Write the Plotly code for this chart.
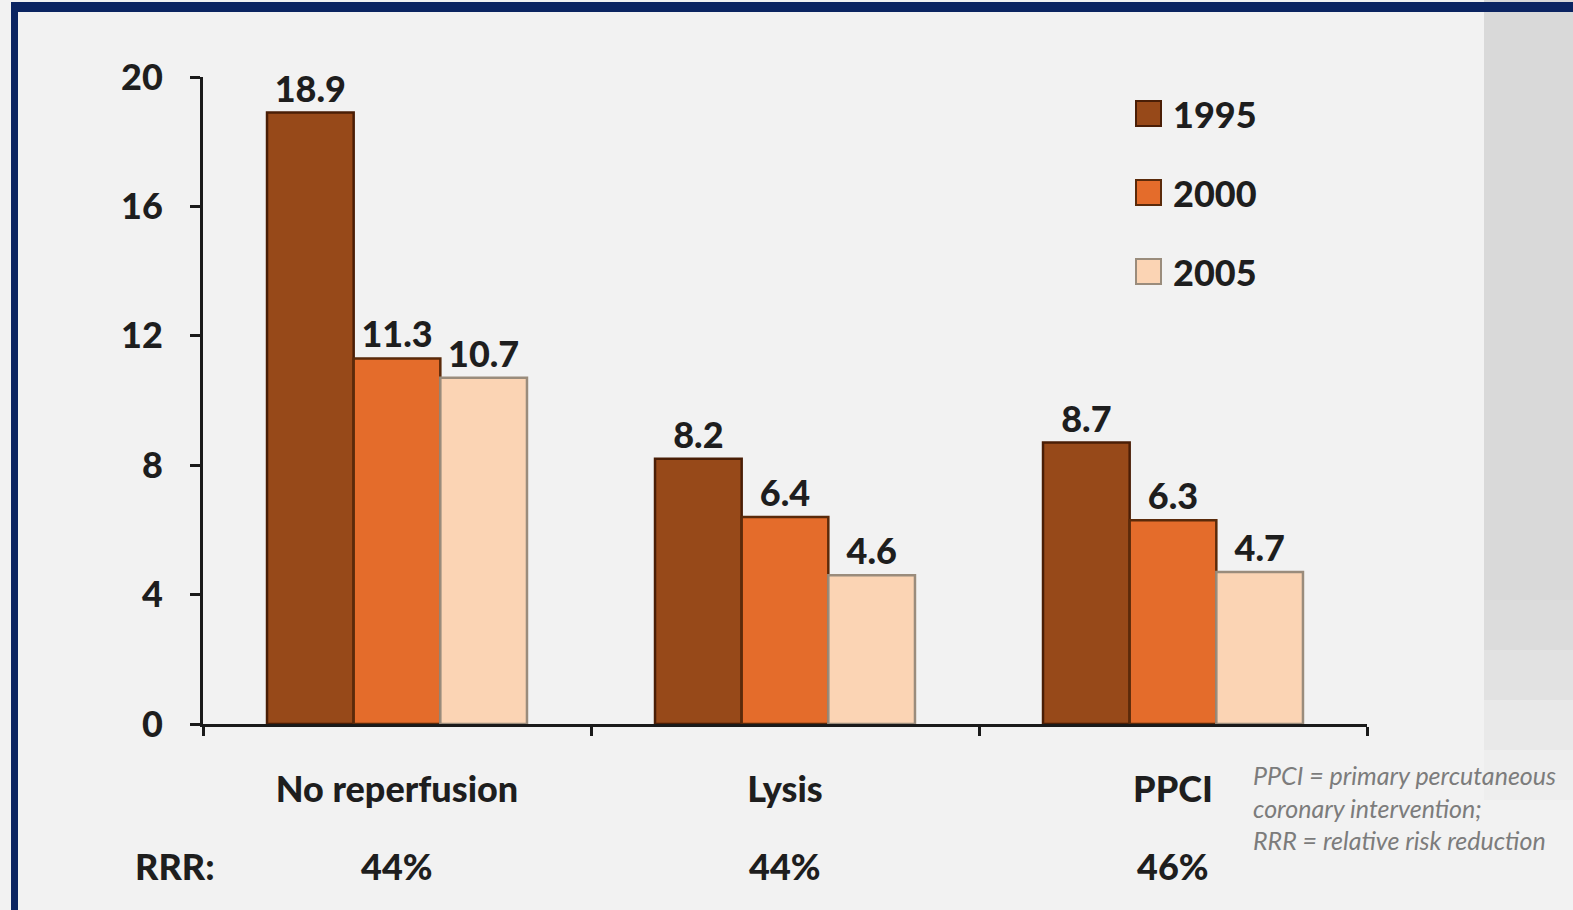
import plotly.graph_objects as go

# Mortality (%) by reperfusion strategy and year
categories = ["No reperfusion", "Lysis", "PPCI"]
years = ["1995", "2000", "2005"]
values_1995 = [18.9, 8.2, 8.7]
values_2000 = [11.3, 6.4, 6.3]
values_2005 = [10.7, 4.6, 4.7]
rrr_labels = ["44%", "44%", "46%"]
y_ticks = [0, 4, 8, 12, 16, 20]

series = [values_1995, values_2000, values_2005]
fill_colors = ["#974919", "#E46C2B", "#FBD4B4"]
line_colors = ["#4A1E06", "#5A2A0A", "#9A8C7C"]

W, H = 1573, 910
PL, PR, PT, PB = 203, 1367, 77, 724  # plot-area edges in pixels
FONT = "Lato"
WEIGHT = 900
TEXT = "#1e1e1e"


def px_x(x):
    """Pixel column -> paper x (paper spans the plot area)."""
    return (x - PL) / (PR - PL)


def px_y(y):
    """Pixel row (from top) -> paper y."""
    return (PB - y) / (PB - PT)


fig = go.Figure()
for name, vals, fc, lc in zip(years, series, fill_colors, line_colors):
    fig.add_trace(go.Bar(
        name=name,
        x=categories,
        y=vals,
        marker=dict(color=fc, line=dict(color=lc, width=2.5)),
        text=[f"{v:.1f}" for v in vals],
        textposition="outside",
        textfont=dict(family=FONT, size=36, color=TEXT, weight=WEIGHT),
        cliponaxis=False,
        showlegend=False,
    ))

shapes = []
# right-hand grey panel, fading out towards the bottom
panel_steps = [(0, 600, "#d9d9d9"), (600, 650, "#dcdcdc"), (650, 700, "#e2e2e2"),
               (700, 750, "#e9e9e9"), (750, 800, "#eeeeee")]
for top, bottom, col in panel_steps:
    shapes.append(dict(type="rect", xref="paper", yref="paper",
                       x0=px_x(1484), x1=px_x(W + 5), y0=px_y(bottom), y1=px_y(top),
                       fillcolor=col, line_width=0, layer="below"))
# navy frame, top and left
shapes.append(dict(type="rect", xref="paper", yref="paper", x0=px_x(11), x1=px_x(W + 5),
                   y0=px_y(12), y1=px_y(2), fillcolor="#0b2461", line_width=0, layer="below"))
shapes.append(dict(type="rect", xref="paper", yref="paper", x0=px_x(11), x1=px_x(18),
                   y0=px_y(H + 5), y1=px_y(2), fillcolor="#0b2461", line_width=0, layer="below"))

annotations = []

# legend: swatch + year label
legend_rows = [114, 193, 272]
for name, fc, lc, ry in zip(years, fill_colors, line_colors, legend_rows):
    shapes.append(dict(type="rect", xref="paper", yref="paper",
                       x0=px_x(1136), x1=px_x(1161), y0=px_y(ry + 12), y1=px_y(ry - 13),
                       fillcolor=fc, line=dict(color=lc, width=2)))
    annotations.append(dict(xref="paper", yref="paper", x=px_x(1171), y=px_y(ry),
                            text=name, showarrow=False, xanchor="left", yanchor="middle",
                            font=dict(family=FONT, size=36, color=TEXT, weight=WEIGHT)))

# RRR row
annotations.append(dict(xref="paper", yref="paper", x=px_x(175), y=px_y(866),
                        text="RRR:", showarrow=False, xanchor="center", yanchor="middle",
                        font=dict(family=FONT, size=36, color=TEXT, weight=WEIGHT)))
for cat, lab in zip(categories, rrr_labels):
    annotations.append(dict(xref="x", yref="paper", x=cat, y=px_y(866),
                            text=lab, showarrow=False, xanchor="center", yanchor="middle",
                            font=dict(family=FONT, size=36, color=TEXT, weight=WEIGHT)))

# abbreviations footnote
annotations.append(dict(
    xref="paper", yref="paper", x=px_x(1251), y=px_y(808),
    text="PPCI = primary percutaneous<br>coronary intervention;<br>RRR = relative risk reduction",
    showarrow=False, xanchor="left", yanchor="middle", align="left",
    font=dict(family=FONT, size=25, color="#7c7c7c", style="italic"),
))

fig.update_layout(
    width=W, height=H,
    margin=dict(l=PL, r=W - PR, t=PT, b=H - PB, autoexpand=False),
    paper_bgcolor="#f2f2f2",
    plot_bgcolor="rgba(0,0,0,0)",
    barmode="group",
    bargap=0.33,
    bargroupgap=0,
    showlegend=False,
    shapes=shapes,
    annotations=annotations,
    xaxis=dict(
        type="category",
        range=[-0.5, 2.5],
        showline=True, linecolor="#1a1a1a", linewidth=3,
        ticks="outside", tickson="boundaries", ticklen=9, tickwidth=3, tickcolor="#1a1a1a",
        ticklabelstandoff=32,
        tickfont=dict(family=FONT, size=36, color=TEXT, weight=WEIGHT),
        showgrid=False, zeroline=False,
    ),
    yaxis=dict(
        range=[0, 20],
        tickvals=y_ticks,
        showline=True, linecolor="#1a1a1a", linewidth=3,
        ticks="outside", ticklen=10, tickwidth=3, tickcolor="#1a1a1a",
        ticklabelstandoff=20,
        tickfont=dict(family=FONT, size=36, color=TEXT, weight=WEIGHT),
        showgrid=False, zeroline=False,
    ),
)

fig.write_html("out.html")
